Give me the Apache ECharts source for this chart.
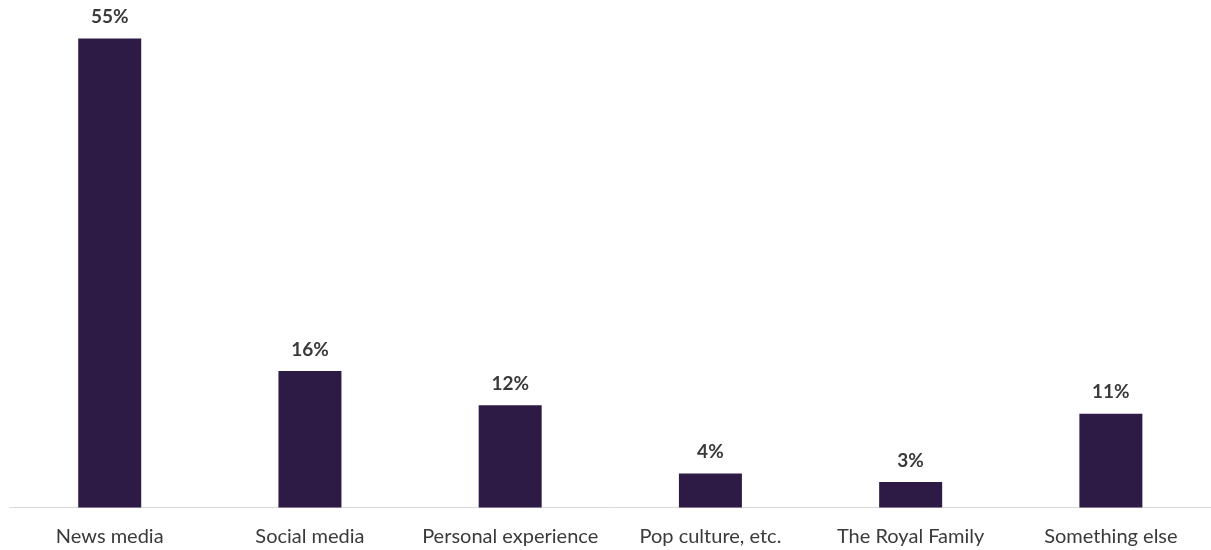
<!DOCTYPE html>
<html><head><meta charset="utf-8">
<script src="https://cdn.jsdelivr.net/npm/echarts@6/dist/echarts.min.js"></script>
<style>html,body{margin:0;padding:0;background:#fff}#c{width:1211px;height:550px}</style>
</head><body><div id="c"></div>
<script>
const categories = ["News media","Social media","Personal experience","Pop culture, etc.","The Royal Family","Something else"];
const values = [55,16,12,4,3,11];
const chart = echarts.init(document.getElementById('c'), null, {renderer:'canvas'});
chart.setOption({
  animation:false,
  grid:{left:9.6,right:0,top:38.5,bottom:42.5,containLabel:false},
  xAxis:{type:'category',data:categories,
    axisLine:{lineStyle:{color:'#d9d9d9',width:1}},
    axisTick:{show:false},
    axisLabel:{interval:0,color:'#3a3a3a',fontFamily:'Lato',fontSize:20,margin:19}},
  yAxis:{type:'value',min:0,max:55,show:false,splitLine:{show:false}},
  series:[{type:'bar',data:values,barWidth:63,
    itemStyle:{color:'#2d1b45'},
    label:{show:true,position:'top',distance:12,formatter:'{c}%',color:'#3a3a3a',fontFamily:'Lato',fontWeight:'bold',fontSize:19}}]
});
</script></body></html>
